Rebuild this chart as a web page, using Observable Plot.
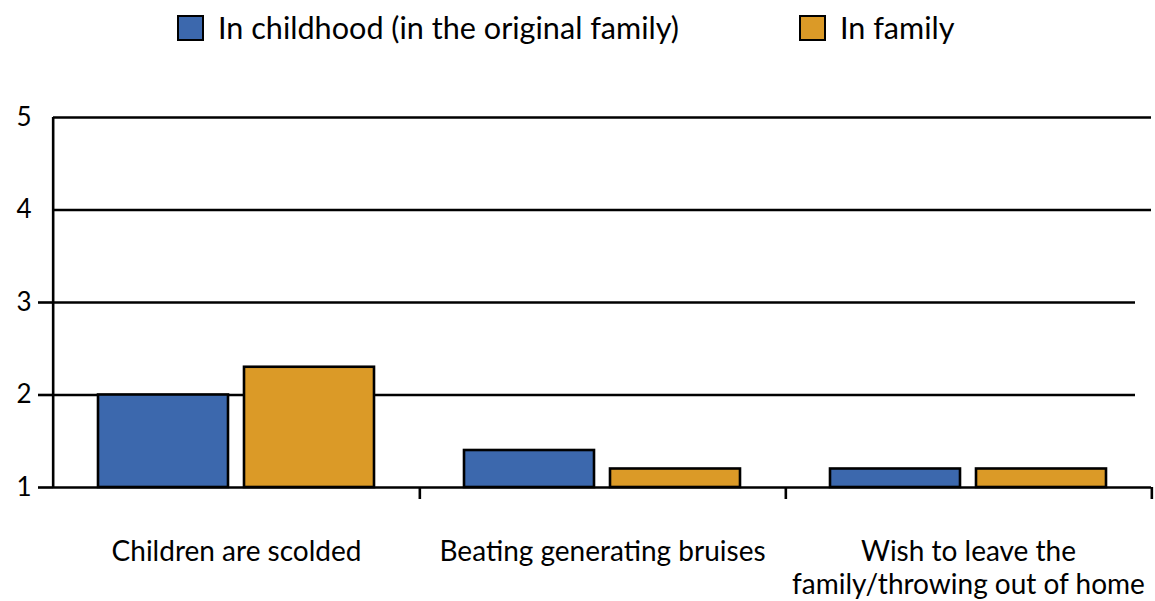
<!DOCTYPE html>
<html>
<head>
<meta charset="utf-8">
<script src="https://cdn.jsdelivr.net/npm/d3@7"></script>
<script src="https://cdn.jsdelivr.net/npm/@observablehq/plot@0.6"></script>
<style>
  body { margin: 0; background: #fff; font-family: Lato, "Open Sans", sans-serif; }
  #legend { position: relative; height: 60px; width: 1155px; }
  .item { position: absolute; top: 13px; display: flex; align-items: center; font-size: 30.6px; line-height: 30px; color: #000; white-space: nowrap; }
  .sw { width: 23px; height: 22px; border: 2.5px solid #000; margin-right: 14px; box-sizing: content-box; }
  svg { display: block; }
</style>
</head>
<body>
<div id="legend"></div>
<div id="chart"></div>
<script>
// ---- data ----
const categories = ["Children are scolded", "Beating generating bruises", "Wish to leave the family/throwing out of home"];
const categoryLabels = ["Children are scolded", "Beating generating bruises", "Wish to leave the\nfamily/throwing out of home"];
const series = ["In childhood (in the original family)", "In family"];
const childhood = [2.0, 1.4, 1.2];
const inFamily = [2.3, 1.2, 1.2];
const colors = ["#3c68ad", "#db9a27"];
const yTicksLong = [1, 2, 3];
const yTicksShort = [4, 5];

// ---- table ----
const rows = [];
categories.forEach((c, i) => {
  rows.push({category: c, series: series[0], value: childhood[i]});
  rows.push({category: c, series: series[1], value: inFamily[i]});
});
const gridMid = [];
categories.forEach(c => [2, 3].forEach(v => gridMid.push({category: c, y: v})));
const lastCat = categories[categories.length - 1];

// ---- legend ----
const legend = document.getElementById("legend");
const legendLeft = [177, 799];
series.forEach((s, i) => {
  const it = document.createElement("div");
  it.className = "item";
  it.style.left = legendLeft[i] + "px";
  const sw = document.createElement("div");
  sw.className = "sw";
  sw.style.background = colors[i];
  const t = document.createElement("span");
  t.textContent = s;
  it.appendChild(sw); it.appendChild(t);
  legend.appendChild(it);
});

// ---- chart ----
const W = 1155, H = 541, ML = 52, MR = 3;
const facetW = (W - ML - MR) / categories.length;
const labelMap = new Map(categories.map((c, i) => [c, categoryLabels[i]]));
const SW = 2.6;

const chart = Plot.plot({
  width: W, height: H,
  marginLeft: ML, marginRight: MR, marginTop: 57, marginBottom: 114,
  style: {fontFamily: "Lato, 'Open Sans', sans-serif", color: "black", background: "white"},
  fx: {domain: categories, padding: 0, axis: null, label: null},
  x: {domain: series, paddingInner: 0.109, paddingOuter: 0.3, axis: null},
  y: {domain: [1, 5], axis: null},
  color: {domain: series, range: colors},
  marks: [
    Plot.ruleY(yTicksShort, {stroke: "black", strokeWidth: SW}),
    Plot.ruleY(gridMid.filter(d => d.category !== lastCat), {fx: "category", y: "y", stroke: "black", strokeWidth: SW}),
    Plot.ruleY(gridMid.filter(d => d.category === lastCat), {fx: "category", y: "y", stroke: "black", strokeWidth: SW, insetRight: 16}),
    Plot.ruleY([1], {stroke: "black", strokeWidth: SW}),
    Plot.ruleX([{category: categories[0]}], {fx: "category", x: null, y1: 1, y2: 5, dx: -facetW / 2, stroke: "black", strokeWidth: SW}),
    Plot.barY(rows, {fx: "category", x: "series", y1: 1, y2: "value", fill: "series", stroke: "black", strokeWidth: SW}),
    Plot.axisY({ticks: yTicksLong, tickFormat: d => String(d), tickSize: 15, tickPadding: 7, fontSize: 26, strokeWidth: SW, stroke: "black", fill: "black", label: null}),
    Plot.axisY({ticks: yTicksShort, tickFormat: d => String(d), tickSize: 0, tickPadding: 22, fontSize: 26, fill: "black", label: null}),
    Plot.axisFx({anchor: "bottom", tickSize: 12, text: null, dx: facetW / 2, strokeWidth: SW, stroke: "black", label: null}),
    Plot.axisFx({anchor: "bottom", tickSize: 0, tickPadding: 50, fontSize: 28, lineHeight: 1.18, fill: "black", label: null, tickFormat: d => labelMap.get(d)})
  ]
});
document.getElementById("chart").appendChild(chart);
</script>
</body>
</html>
